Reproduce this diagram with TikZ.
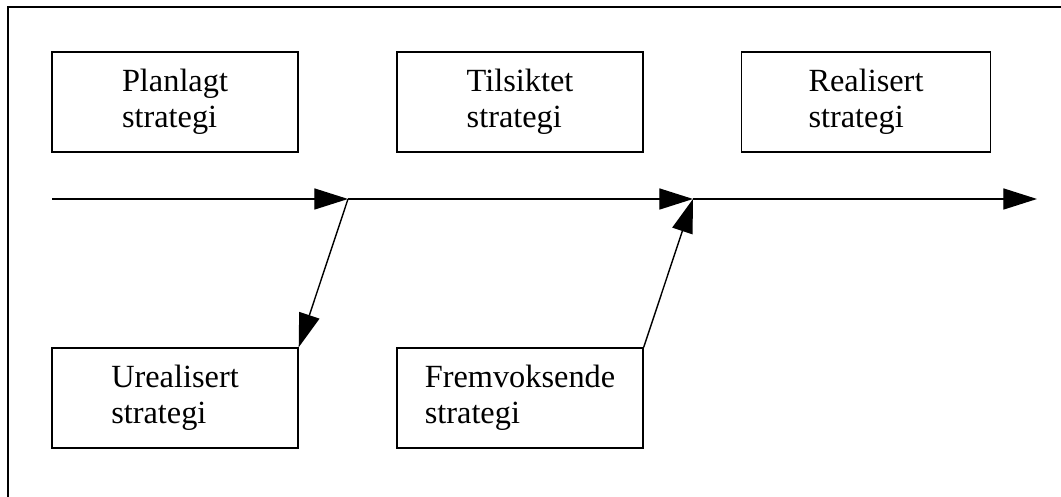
\documentclass[tikz,border=0pt]{standalone}
\usepackage{fontspec}
\setmainfont{Liberation Serif}
\usetikzlibrary{arrows.meta, positioning}

\begin{document}
\begin{tikzpicture}[node distance={8.625cm}, on grid,
	box/.style = {draw, line width=1pt, minimum width=6.15cm, minimum height=2.5cm, align=left, font=\fontsize{23}{25.5}\selectfont},
	flow/.style = {draw, line width=1pt, -{Triangle[length=24pt, width=15pt]}}]
	\useasboundingbox (0,0) rectangle (26.525,12.425);
	% frame (top and left only)
	\draw[line width=2pt] (0.2,0) -- (0.2,12.25) -- (26.525,12.25);
	\node[box] (plan) at (4.375,9.875) {Planlagt\\strategi};
	\node[box] (tils) [right=of plan] {Tilsiktet\\strategi};
	\node[box, minimum width=6.225cm] (real) [right=8.65cm of tils] {Realisert\\strategi};
	\node[box] (ureal) [below=7.4cm of plan] {Urealisert\\strategi};
	\node[box] (fremv) [below=7.4cm of tils] {Fremvoksende\\strategi};
	\coordinate (start) at (1.3,7.45);
	\coordinate (j1) at (8.7,7.45);
	\coordinate (j2) at (17.325,7.45);
	\coordinate (end) at (25.925,7.45);
	\path[every edge/.append style={flow}]
	(start) edge (j1)
	(j1) edge (j2)
	(j2) edge (end)
	(j1) edge (ureal.north east)
	(fremv.north east) edge (j2);
\end{tikzpicture}
\end{document}
